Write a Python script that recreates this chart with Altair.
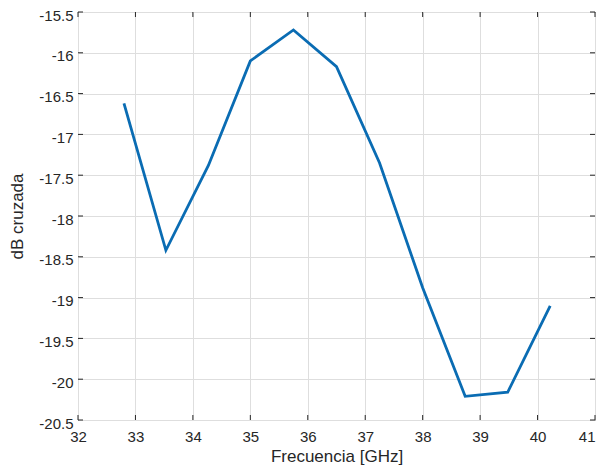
import altair as alt
import pandas as pd

freq = [32.8, 33.53, 34.27, 35.0, 35.75, 36.5, 37.25, 38.0, 38.74, 39.48, 40.22]
db = [-16.62, -18.42, -17.38, -16.10, -15.72, -16.17, -17.35, -18.88, -20.21, -20.16, -19.10]
x_ticks = [32, 33, 34, 35, 36, 37, 38, 39, 40, 41]
y_ticks = [-20.5, -20, -19.5, -19, -18.5, -18, -17.5, -17, -16.5, -16, -15.5]

df = pd.DataFrame({"f": freq, "db": db})
dfx = pd.DataFrame({"t": x_ticks})
dfy = pd.DataFrame({"t": y_ticks})

W, H = 517, 408
FONT = "Liberation Sans"
TXT = "#262626"

xscale = alt.Scale(domain=[32, 41], nice=False, zero=False)
yscale = alt.Scale(domain=[-20.5, -15.5], nice=False, zero=False)

xaxis = alt.Axis(values=x_ticks, title="Frecuencia [GHz]", ticks=False, domain=False,
                 grid=True, gridColor="#dedede", gridWidth=1,
                 labelExpr="'' + datum.value",
                 labelAlign=alt.condition("datum.value == 41", alt.value("right"), alt.value("center")),
                 labelFont=FONT, labelFontSize=15, labelColor=TXT, labelPadding=9,
                 titleFont=FONT, titleFontSize=17, titleFontWeight="normal", titleColor=TXT,
                 titlePadding=4, labelFlush=False)
yaxis = alt.Axis(values=y_ticks, title="dB cruzada", ticks=False, domain=False,
                 grid=True, gridColor="#dedede", gridWidth=1,
                 labelExpr="'' + datum.value",
                 labelFont=FONT, labelFontSize=15, labelColor=TXT, labelPadding=5,
                 labelOffset=3,
                 titleFont=FONT, titleFontSize=17, titleFontWeight="normal", titleColor=TXT,
                 titlePadding=12, labelFlush=False)

line = alt.Chart(df).mark_line(color="#0a6cb3", strokeWidth=2.8, clip=False).encode(
    x=alt.X("f:Q", scale=xscale, axis=xaxis),
    y=alt.Y("db:Q", scale=yscale, axis=yaxis),
)

tb = alt.Chart(dfx).mark_rule(color=TXT, strokeWidth=1).encode(
    x=alt.X("t:Q", scale=xscale), y=alt.value(H), y2=alt.value(H - 5))
tt = alt.Chart(dfx).mark_rule(color=TXT, strokeWidth=1).encode(
    x=alt.X("t:Q", scale=xscale), y=alt.value(0), y2=alt.value(5))
tl = alt.Chart(dfy).mark_rule(color=TXT, strokeWidth=1).encode(
    y=alt.Y("t:Q", scale=yscale), x=alt.value(0), x2=alt.value(5))
tr = alt.Chart(dfy).mark_rule(color=TXT, strokeWidth=1).encode(
    y=alt.Y("t:Q", scale=yscale), x=alt.value(W), x2=alt.value(W - 5))

chart = alt.layer(line, tb, tt, tl, tr).properties(
    width=W, height=H,
    autosize=alt.AutoSizeParams(type="none"),
    padding={"left": 70, "top": 4, "right": 2, "bottom": 46},
    background="white",
).configure_view(stroke=TXT, strokeWidth=1)

chart.save("out.html", embed_options={"renderer": "svg", "actions": False})
